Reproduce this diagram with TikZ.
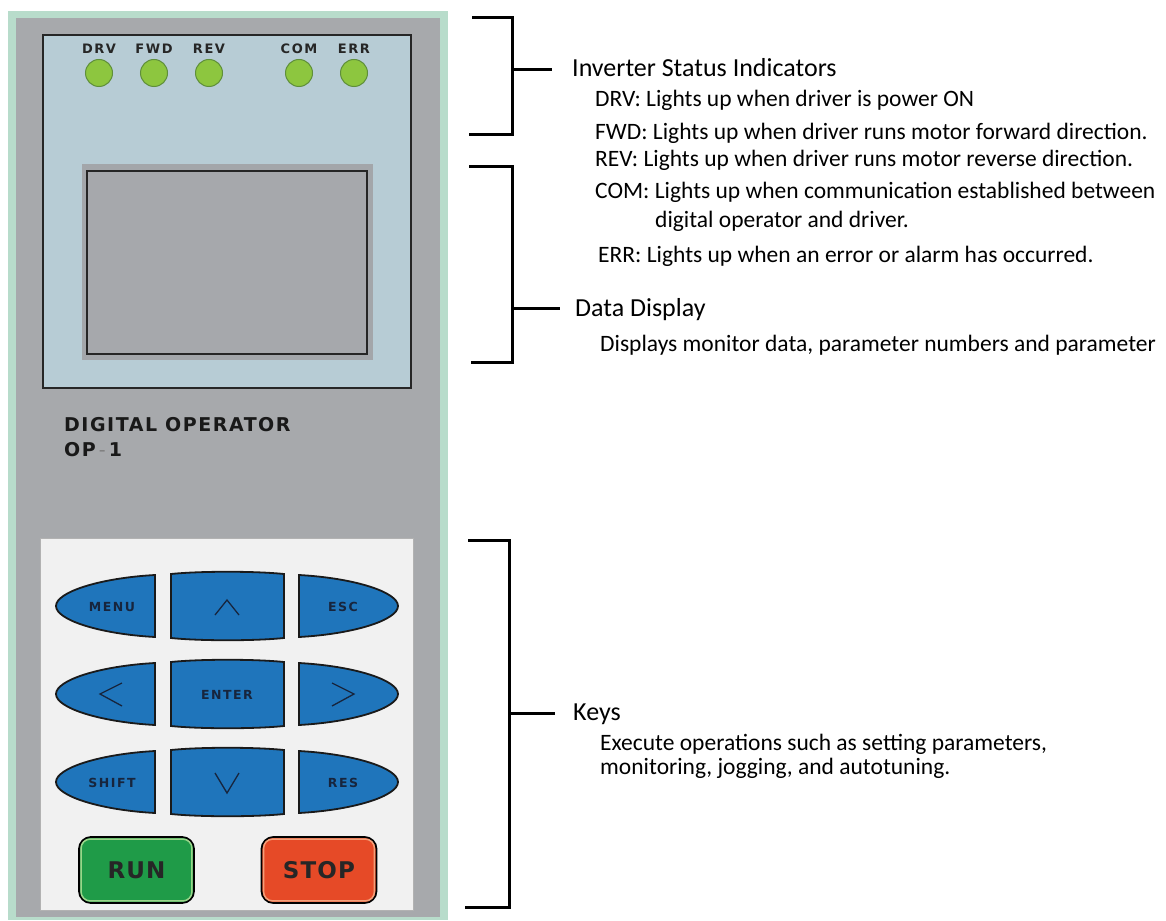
\documentclass[tikz,border=0pt]{standalone}
\usepackage{fontspec}
\setmainfont{Carlito}
\newfontfamily\panelfont{DejaVu Sans}[LetterSpace=12]
\newfontfamily\titlefont{DejaVu Sans}[LetterSpace=8]
\newfontfamily\bigkeyfont{DejaVu Sans}[LetterSpace=5]
\usetikzlibrary{positioning}
\definecolor{panelgray}{HTML}{A7A9AC}
\definecolor{panelrim}{HTML}{B8DCCB}
\definecolor{bluepanel}{HTML}{B7CCD5}
\definecolor{dispband}{HTML}{A3A6AA}
\definecolor{dispgray}{HTML}{A6A8AC}
\definecolor{ledgreen}{HTML}{8DC63F}
\definecolor{ledrim}{HTML}{5F8F3A}
\definecolor{padwhite}{HTML}{F1F1F1}
\definecolor{keyblue}{HTML}{1F75BB}
\definecolor{keyrim}{HTML}{1A1A1A}
\definecolor{keytext}{HTML}{17253D}
\definecolor{rungreen}{HTML}{1F9B48}
\definecolor{runring}{HTML}{9BD58A}
\definecolor{stopred}{HTML}{E64A27}
\definecolor{stopring}{HTML}{F3A07A}
\tikzset{
  led/.style={circle, draw=ledrim, fill=ledgreen, line width=1pt, minimum size=27pt, inner sep=0pt},
  ledlbl/.style={anchor=base, inner sep=0pt, text=black!85, font=\panelfont\bfseries\fontsize{13}{14}\selectfont},
  keylbl/.style={anchor=base, inner sep=0pt, text=keytext, font=\panelfont\bfseries\fontsize{12.5}{13}\selectfont},
  keyshape/.style={fill=keyblue, draw=keyrim, line width=1.8pt},
  chev/.style={draw=keytext, line width=1.3pt},
  bigkey/.style={draw=black, line width=1.8pt, rounded corners=12pt, minimum width=115pt, minimum height=66pt, inner sep=0pt, text=black!85, font=\bigkeyfont\bfseries\fontsize{23}{24}\selectfont},
  model/.style={anchor=base west, inner sep=0pt, text=black!90, font=\titlefont\bfseries\fontsize{19}{20}\selectfont},
  head/.style={anchor=base west, inner sep=0pt, font=\fontsize{26}{30}\selectfont},
  note/.style={anchor=base west, inner sep=0pt, font=\fontsize{23.5}{22}\selectfont},
  brk/.style={line width=3pt},
}

\begin{document}
\begin{tikzpicture}[x=1pt, y=-1pt]
\useasboundingbox (0,0) rectangle (1166,920);

% operator housing
\fill[panelrim] (8,11) rectangle (448,920);
\fill[panelgray] (16,18) rectangle (440,917);
\draw[fill=bluepanel, draw=black!85, line width=2pt] (43,35) rectangle (411,388);

\foreach \x/\t in {99/DRV,154/FWD,209/REV,299/COM,354/ERR} {
  \node[led] (led\t) at (\x,73) {};
  \node[ledlbl] (lbl\t) at (\x,54) {\t};
}

\fill[dispband] (82,164) rectangle (373,360);
\draw[fill=dispgray, draw=black!85, line width=2pt] (87,171) rectangle (367,354);

\node[model] (model) at (64,431) {DIGITAL OPERATOR};
\node[model] (modelno) at (64,456) {OP\,{\mdseries\color{black!50}-}\,1};

% keypad
\draw[fill=padwhite, draw=black!30, line width=0.8pt] (40,538) rectangle (413,910);
\foreach \ky in {606,694,782} {
  \draw[keyshape] (155,\ky-31) .. controls (100,\ky-28) and (56,\ky-14) .. (56,\ky)
    .. controls (56,\ky+14) and (100,\ky+28) .. (155,\ky+31) -- cycle;
  \draw[keyshape] (171,\ky-32) .. controls (200,\ky-35) and (255,\ky-35) .. (284,\ky-32)
    -- (284,\ky+32) .. controls (255,\ky+35) and (200,\ky+35) .. (171,\ky+32) -- cycle;
  \draw[keyshape] (299,\ky-31) .. controls (354,\ky-28) and (398,\ky-14) .. (398,\ky)
    .. controls (398,\ky+14) and (354,\ky+28) .. (299,\ky+31) -- cycle;
}
\node[keylbl] (kmenu) at (112,611) {MENU};
\node[keylbl] (kesc) at (343,611) {ESC};
\node[keylbl] (kenter) at (227,699) {ENTER};
\node[keylbl] (kshift) at (112,787) {SHIFT};
\node[keylbl] (kres) at (343,787) {RES};
\draw[chev] (215,615) -- (227,600) -- (239,615);
\draw[chev] (122,683) -- (100,694) -- (122,706);
\draw[chev] (332,683) -- (354,694) -- (332,706);
\draw[chev] (215,773) -- (227,793) -- (239,773);

\node[bigkey, fill=rungreen] (run) at (136.5,870) {RUN};
\draw[runring, line width=1.5pt, rounded corners=9pt] ([shift={(3,3)}]run.north west) rectangle ([shift={(-3,-3)}]run.south east);
\node[bigkey, fill=stopred] (stop) at (319,870) {STOP};
\draw[stopring, line width=1.5pt, rounded corners=9pt] ([shift={(3,3)}]stop.north west) rectangle ([shift={(-3,-3)}]stop.south east);

% brackets and notes
\coordinate (b1mid) at (512,70);
\coordinate (b2mid) at (512,308);
\coordinate (b3mid) at (509,713);
\draw[brk] (472,18) -| (b1mid) |- (469,135);
\draw[brk] (469,167) -| (b2mid) |- (471,362);
\draw[brk] (468,540) -| (b3mid) |- (465,907);
\draw[brk] (b1mid) -- ++(40,0);
\draw[brk] (b2mid) -- ++(48,0);
\draw[brk] (b3mid) -- ++(46,0);

\node[head] (ish) at (572,77) {Inverter Status Indicators};
\node[note] (drv) at (595,107) {DRV: Lights up when driver is power ON};
\node[note] (fwd) at (595,140) {FWD: Lights up when driver runs motor forward direction.};
\node[note] (rev) at (595,167) {REV: Lights up when driver runs motor reverse direction.};
\node[note] (com) at (595,198) {COM: Lights up when communication established between};
\node[note] (com2) at (655,227) {digital operator and driver.};
\node[note] (err) at (598,262) {ERR: Lights up when an error or alarm has occurred.};

\node[head] (dd) at (575,316) {Data Display};
\node[note] (ddtxt) at (600,351) {Displays monitor data, parameter numbers and parameter};

\node[head] (keys) at (573,720) {Keys};
\node[note] (keys1) at (600,750) {Execute operations such as setting parameters,};
\node[note] (keys2) at (600,774) {monitoring, jogging, and autotuning.};

\end{tikzpicture}
\end{document}
